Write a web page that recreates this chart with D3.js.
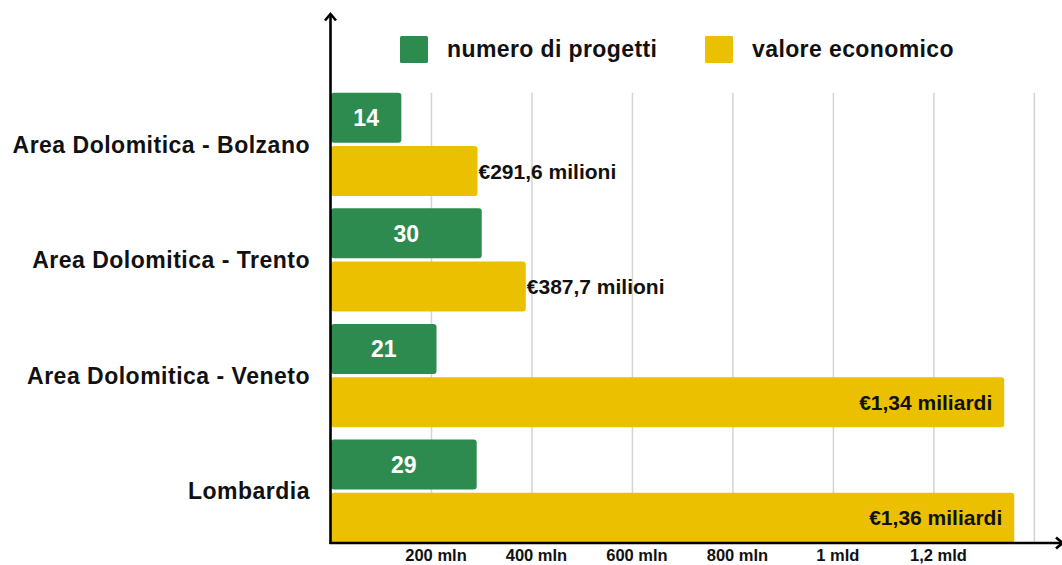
<!DOCTYPE html>
<html>
<head>
<meta charset="utf-8">
<script src="https://cdn.jsdelivr.net/npm/d3@7"></script>
<style>
  html, body { margin: 0; padding: 0; background: #ffffff; }
  svg { display: block; }
  text { font-family: "Liberation Sans", Arial, Helvetica, sans-serif; font-weight: bold; }
</style>
</head>
<body>
<svg id="chart" width="1062" height="565"></svg>
<script>
// ---- data ----
const categories = ["Area Dolomitica - Bolzano", "Area Dolomitica - Trento", "Area Dolomitica - Veneto", "Lombardia"];
const projectCounts = [14, 30, 21, 29];               // numero di progetti
const economicValues = [291.6, 387.7, 1340, 1360];    // valore economico (milioni di €)
const seriesNames = ["numero di progetti", "valore economico"];
const tickValues = [200, 400, 600, 800, 1000, 1200];
const tickLabels = ["200 mln", "400 mln", "600 mln", "800 mln", "1 mld", "1,2 mld"];
const gridValues = [200, 400, 600, 800, 1000, 1200, 1400];

const colors = { green: "#2e8b4f", yellow: "#ebc000" };

const svg = d3.select("#chart");

const x0 = 331, xEnd = 1062;
const x = d3.scaleLinear().domain([0, 1455]).range([x0, xEnd]);
const xCount = d3.scaleLinear().domain([0, 145.5]).range([x0, xEnd]);

const y = d3.scaleBand().domain(categories).range([92.7, 542.8]).paddingInner(0.106).paddingOuter(0);
const ySub = d3.scaleBand().domain(seriesNames).range([0, y.bandwidth()]).paddingInner(0.062).paddingOuter(0);

// gridlines
svg.append("g").selectAll("line").data(gridValues).join("line")
  .attr("x1", d => x(d)).attr("x2", d => x(d))
  .attr("y1", y.range()[0]).attr("y2", 543)
  .attr("stroke", "#d4d4d4").attr("stroke-width", 1.5);

// bars
const groups = svg.append("g").selectAll("g").data(categories).join("g")
  .attr("transform", d => `translate(0,${y(d)})`);

groups.append("rect")
  .attr("x", x0).attr("y", ySub(seriesNames[0]))
  .attr("width", (d, i) => xCount(projectCounts[i]) - x0)
  .attr("height", ySub.bandwidth())
  .attr("rx", 3).attr("fill", colors.green);

groups.append("rect")
  .attr("x", x0).attr("y", ySub(seriesNames[1]))
  .attr("width", (d, i) => x(economicValues[i]) - x0)
  .attr("height", ySub.bandwidth())
  .attr("rx", 3).attr("fill", colors.yellow);

// count labels
groups.append("text")
  .attr("x", (d, i) => (x0 + xCount(projectCounts[i])) / 2)
  .attr("y", ySub(seriesNames[0]) + ySub.bandwidth() / 2)
  .attr("dy", "0.36em")
  .attr("text-anchor", "middle")
  .attr("fill", "#ffffff")
  .style("font-size", "23px")
  .text((d, i) => projectCounts[i]);

// value labels
function fmtValue(v) {
  if (v < 1000) return "€" + v.toFixed(1).replace(".", ",") + " milioni";
  return "€" + (v / 1000).toFixed(2).replace(".", ",") + " miliardi";
}
groups.append("text")
  .attr("x", (d, i) => economicValues[i] >= 1000 ? x(economicValues[i]) - 12 : x(economicValues[i]) + 1)
  .attr("y", ySub(seriesNames[1]) + ySub.bandwidth() / 2)
  .attr("dy", "0.36em")
  .attr("text-anchor", (d, i) => economicValues[i] >= 1000 ? "end" : "start")
  .attr("fill", "#111111")
  .style("font-size", "21px")
  .text((d, i) => fmtValue(economicValues[i]));

// category labels
svg.append("g").selectAll("text").data(categories).join("text")
  .attr("x", 310)
  .attr("y", d => y(d) + y.bandwidth() / 2)
  .attr("dy", "0.36em")
  .attr("text-anchor", "end")
  .attr("fill", "#111111")
  .style("font-size", "23px")
  .style("letter-spacing", "0.5px")
  .text(d => d);

// x axis tick labels
const xAxis = d3.axisBottom(x).tickValues(tickValues)
  .tickFormat((d, i) => tickLabels[i]).tickSize(0).tickPadding(0);
const gx = svg.append("g").attr("transform", "translate(4,561)").call(xAxis);
gx.select(".domain").remove();
gx.selectAll("text")
  .attr("dy", 0)
  .attr("fill", "#111111")
  .style("font-family", '"Liberation Sans", Arial, Helvetica, sans-serif')
  .style("font-weight", "bold")
  .style("font-size", "16.5px");

// axes lines with arrows
const axisG = svg.append("g").attr("stroke", "#000").attr("stroke-width", 2.6).attr("fill", "none");
axisG.append("line").attr("x1", 330.5).attr("x2", 330.5).attr("y1", 544).attr("y2", 14);
axisG.append("path").attr("d", "M325,20.5 L330.5,14 L336,20.5");
axisG.append("line").attr("x1", 329.5).attr("x2", 1062).attr("y1", 543).attr("y2", 543);
axisG.append("path").attr("d", "M1056,537.5 L1062.5,543 L1056,548.5");

// legend
const legend = svg.append("g");
const legendX = [400, 705];
const legendColors = [colors.green, colors.yellow];
seriesNames.forEach((name, i) => {
  legend.append("rect").attr("x", legendX[i]).attr("y", 36).attr("width", 28).attr("height", 27)
    .attr("rx", 1.5).attr("fill", legendColors[i]);
  legend.append("text").attr("x", legendX[i] + 47).attr("y", 57)
    .attr("fill", "#111111")
    .style("font-size", "23px")
    .style("letter-spacing", "0.4px")
    .text(name);
});
</script>
</body>
</html>
